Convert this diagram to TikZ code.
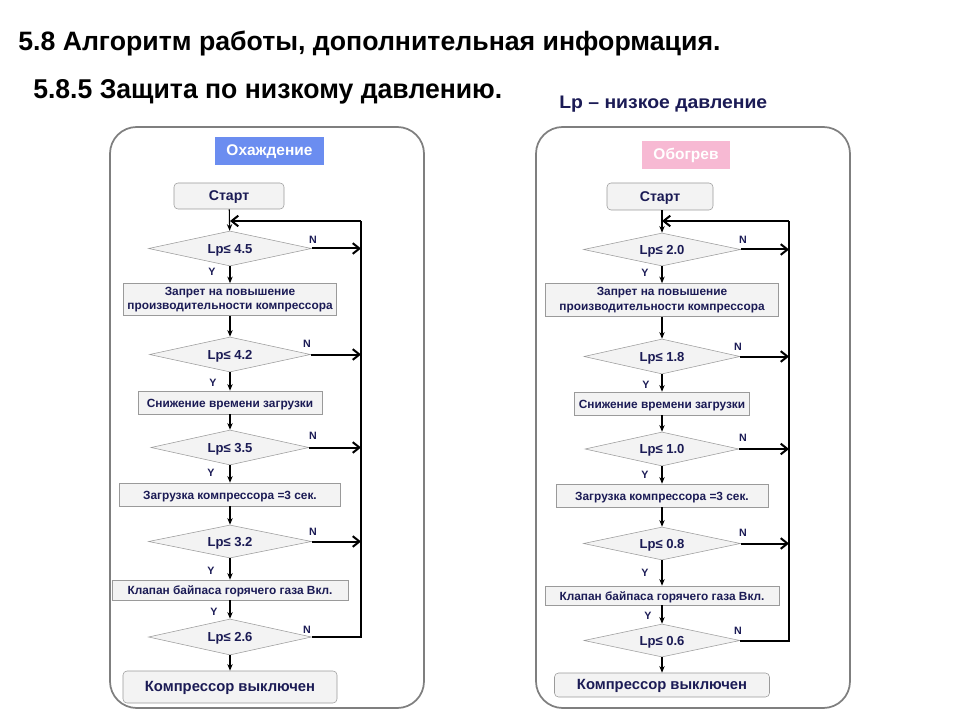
\documentclass[tikz,border=0pt]{standalone}
\usepackage{fontspec}
\setmainfont{Liberation Sans}
\usetikzlibrary{shapes.geometric,arrows.meta}
\newdimen\pxu \pxu=0.75pt
\definecolor{navy}{HTML}{1B1B55}
\definecolor{boxline}{HTML}{9A9A9A}
\definecolor{boxfill}{HTML}{F3F3F3}
\definecolor{panelline}{HTML}{7F7F7F}
\definecolor{coolblue}{HTML}{6B8DF0}
\definecolor{heatpink}{HTML}{F7B9D3}
\tikzset{
  panel/.style={draw=panelline, line width=1.3pt, rounded corners=20pt, fill=white},
  capc/.style={text height=0.72em, text depth=0pt},
  tag/.style={rectangle, inner sep=0pt, capc, text=white, font=\bfseries\fontsize{11.6}{13}\selectfont},
  startbox/.style={rectangle, rounded corners=3pt, draw=boxline, fill=boxfill, inner sep=0pt, capc, text=navy, font=\bfseries\fontsize{10.6}{12}\selectfont},
  endbox/.style={rectangle, rounded corners=3pt, draw=boxline, fill=boxfill, inner sep=0pt, capc, text=navy, font=\bfseries\fontsize{11.1}{12}\selectfont},
  actbox/.style={rectangle, draw=boxline, fill=boxfill, inner sep=0pt, text=navy, align=center, font=\bfseries\fontsize{8.9}{10.8}\selectfont},
  onel/.style={capc},
  cond/.style={diamond, aspect=4.6, draw=boxline, fill=boxfill, inner sep=0pt, capc, text=navy, font=\bfseries\fontsize{9.8}{11}\selectfont},
  yn/.style={text=navy, inner sep=0pt, font=\bfseries\fontsize{8}{9}\selectfont},
  down/.style={-{Stealth[length=5pt,width=4pt]}, line width=0.8pt, black},
  noarrow/.style={-{Straight Barb[length=5pt,width=8pt]}, line width=1.5pt, black},
  bus/.style={line width=1.5pt, black},
}
\begin{document}
\begin{tikzpicture}[x=0.75pt, y=-0.75pt]
\useasboundingbox (0,0) rectangle (960,720);
\fill[white] (0,0) rectangle (960,720);

% titles
\node[anchor=base west, inner sep=0pt] (t1) at (18,51) {\resizebox{702\pxu}{19.5\pxu}{\bfseries 5.8 Алгоритм работы, дополнительная информация.}};
\node[anchor=base west, inner sep=0pt] (t2) at (33,99) {\resizebox{469\pxu}{19\pxu}{\bfseries 5.8.5 Защита по низкому давлению.}};
\node[anchor=base west, inner sep=0pt, text=navy] (t3) at (559,109) {\resizebox{208\pxu}{12.5\pxu}{\bfseries Lp – низкое давление}};

% panels
\draw[panel] (110,127) rectangle (424,708);
\draw[panel] (536,127) rectangle (850,708);

% ---------------- left chart ----------------
\node[tag, fill=coolblue, minimum width=109*\pxu, minimum height=28*\pxu] (Llab) at (269.5,151) {Охаждение};
\node[startbox, minimum width=110*\pxu, minimum height=26*\pxu] (Lstart) at (229,196) {Старт};
\node[cond, minimum width=163*\pxu, minimum height=35*\pxu] (Ld1) at (230,248.5) {Lp≤ 4.5};
\node[actbox, minimum width=213*\pxu, minimum height=32*\pxu] (Lb1) at (230,299.5) {Запрет на повышение\\производительности компрессора};
\node[cond, minimum width=161*\pxu, minimum height=35*\pxu] (Ld2) at (230,354.5) {Lp≤ 4.2};
\node[actbox, onel, minimum width=184*\pxu, minimum height=23*\pxu] (Lb2) at (230,402.5) {Снижение времени загрузки};
\node[cond, minimum width=158*\pxu, minimum height=35*\pxu] (Ld3) at (230,447.5) {Lp≤ 3.5};
\node[actbox, onel, minimum width=221*\pxu, minimum height=23*\pxu] (Lb3) at (230,494.5) {Загрузка компрессора =3 сек.};
\node[cond, minimum width=163*\pxu, minimum height=33*\pxu] (Ld4) at (230,541.5) {Lp≤ 3.2};
\node[actbox, onel, minimum width=236*\pxu, minimum height=20*\pxu] (Lb4) at (230,590) {Клапан байпаса горячего газа Вкл.};
\node[cond, minimum width=163*\pxu, minimum height=36*\pxu] (Ld5) at (230,637) {Lp≤ 2.6};
\node[endbox, minimum width=214*\pxu, minimum height=32*\pxu] (Lend) at (230,687) {Компрессор выключен};

\coordinate (Lbt) at (361,221);
\coordinate (Lbb) at (361,637);
\coordinate (Lin) at (230,221);

\draw[down] (Lstart) -- (Ld1);
\draw[down] (Ld1) -- (Lb1);
\draw[down] (Lb1) -- (Ld2);
\draw[down] (Ld2) -- (Lb2);
\draw[down] (Lb2) -- (Ld3);
\draw[down] (Ld3) -- (Lb3);
\draw[down] (Lb3) -- (Ld4);
\draw[down] (Ld4) -- (Lb4);
\draw[down] (Lb4) -- (Ld5);
\draw[down] (Ld5) -- (Lend);

\draw[noarrow] (Ld1.east) -- (Ld1.east -| Lbt);
\draw[noarrow] (Ld2.east) -- (Ld2.east -| Lbt);
\draw[noarrow] (Ld3.east) -- (Ld3.east -| Lbt);
\draw[noarrow] (Ld4.east) -- (Ld4.east -| Lbt);
\draw[bus] (Ld5.east) -- (Lbb) -- (Lbt);
\draw[noarrow] (Lbt) -- (Lin);

\node[yn] (Ly1) at (212,272) {Y};
\node[yn] (Ly2) at (213,383) {Y};
\node[yn] (Ly3) at (211,473) {Y};
\node[yn] (Ly4) at (211,571) {Y};
\node[yn] (Ly5) at (214,612) {Y};
\node[yn] (Ln1) at (313,240) {N};
\node[yn] (Ln2) at (307,344) {N};
\node[yn] (Ln3) at (313,436) {N};
\node[yn] (Ln4) at (313,532) {N};
\node[yn] (Ln5) at (307,630) {N};

% ---------------- right chart ----------------
\node[tag, fill=heatpink, minimum width=88*\pxu, minimum height=28*\pxu] (Rlab) at (686,155) {Обогрев};
\node[startbox, minimum width=106*\pxu, minimum height=27*\pxu] (Rstart) at (660,196.5) {Старт};
\node[cond, minimum width=157*\pxu, minimum height=33*\pxu] (Rd1) at (662,249.5) {Lp≤ 2.0};
\node[actbox, minimum width=233*\pxu, minimum height=33*\pxu] (Rb1) at (662,300) {Запрет на повышение\\производительности компрессора};
\node[cond, minimum width=156*\pxu, minimum height=35*\pxu] (Rd2) at (662,356.5) {Lp≤ 1.8};
\node[actbox, onel, minimum width=175*\pxu, minimum height=23*\pxu] (Rb2) at (662,403.5) {Снижение времени загрузки};
\node[cond, minimum width=154*\pxu, minimum height=34*\pxu] (Rd3) at (662,449) {Lp≤ 1.0};
\node[actbox, onel, minimum width=212*\pxu, minimum height=23*\pxu] (Rb3) at (662,495.5) {Загрузка компрессора =3 сек.};
\node[cond, minimum width=157*\pxu, minimum height=33*\pxu] (Rd4) at (662,543.5) {Lp≤ 0.8};
\node[actbox, onel, minimum width=234*\pxu, minimum height=19*\pxu] (Rb4) at (662,595.5) {Клапан байпаса горячего газа Вкл.};
\node[cond, minimum width=156*\pxu, minimum height=33*\pxu] (Rd5) at (662,640.5) {Lp≤ 0.6};
\node[endbox, minimum width=215*\pxu, minimum height=24*\pxu] (Rend) at (662,685) {Компрессор выключен};

\coordinate (Rbt) at (789,221);
\coordinate (Rbb) at (789,640.5);
\coordinate (Rin) at (662,221);

\draw[down] (Rstart.south -| Rd1.north) -- (Rd1);
\draw[down] (Rd1) -- (Rb1);
\draw[down] (Rb1) -- (Rd2);
\draw[down] (Rd2) -- (Rb2);
\draw[down] (Rb2) -- (Rd3);
\draw[down] (Rd3) -- (Rb3);
\draw[down] (Rb3) -- (Rd4);
\draw[down] (Rd4) -- (Rb4);
\draw[down] (Rb4) -- (Rd5);
\draw[down] (Rd5) -- (Rend);

\draw[noarrow] (Rd1.east) -- (Rd1.east -| Rbt);
\draw[noarrow] (Rd2.east) -- (Rd2.east -| Rbt);
\draw[noarrow] (Rd3.east) -- (Rd3.east -| Rbt);
\draw[noarrow] (Rd4.east) -- (Rd4.east -| Rbt);
\draw[bus] (Rd5.east) -- (Rbb) -- (Rbt);
\draw[noarrow] (Rbt) -- (Rin);

\node[yn] (Ry1) at (645,273) {Y};
\node[yn] (Ry2) at (646,385) {Y};
\node[yn] (Ry3) at (645,475) {Y};
\node[yn] (Ry4) at (645,573) {Y};
\node[yn] (Ry5) at (648,616) {Y};
\node[yn] (Rn1) at (743,240) {N};
\node[yn] (Rn2) at (738,347) {N};
\node[yn] (Rn3) at (743,438) {N};
\node[yn] (Rn4) at (743,533) {N};
\node[yn] (Rn5) at (738,631) {N};
\end{tikzpicture}
\end{document}
